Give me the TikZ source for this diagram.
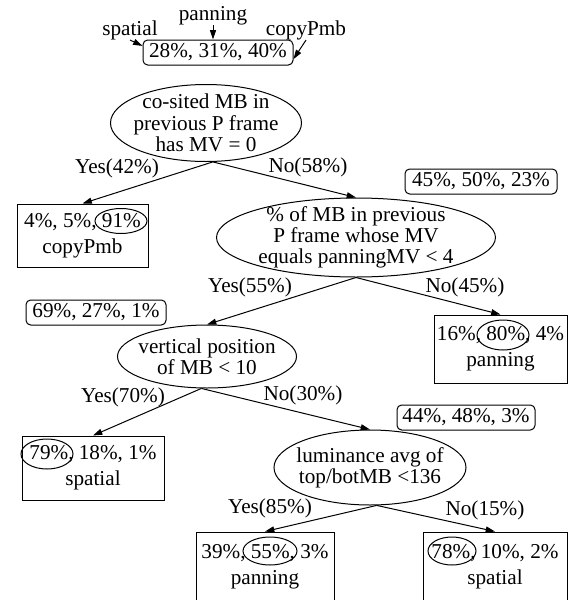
\documentclass[tikz,border=0pt]{standalone}
\usepackage{fontspec}
\setmainfont{Liberation Serif}
\usetikzlibrary{shapes.geometric,arrows.meta}

\tikzset{every picture/.style={line width=0.75pt}}
\tikzset{
  test/.style={ellipse,draw,inner sep=0pt},
  testtxt/.style={align=center,inner sep=0pt,font=\fontsize{15.9}{15.9}\selectfont},
  leaf/.style={rectangle,draw,inner sep=0pt,align=center,font=\fontsize{15.9}{19.5}\selectfont},
  stat/.style={rectangle,draw,rounded corners=3.5pt,inner sep=0pt,font=\fontsize{15.9}{15.9}\selectfont},
  lbl/.style={anchor=base,inner sep=0pt,font=\fontsize{15.9}{15.9}\selectfont},
  branch/.style={-{Triangle[length=7pt,width=4.5pt]}},
}

\begin{document}
\begin{tikzpicture}[x=0.75pt,y=0.75pt,yscale=-1,xscale=1]
\useasboundingbox (0,0) rectangle (568,600);
\clip (0,0) rectangle (568,600);

% class counts at the root
\node[stat,minimum width=112.5pt,minimum height=18.75pt] (s0) at (218,52.5) {28\%, 31\%, 40\%};
\node[lbl] (tpan) at (213,20) {panning};
\node[lbl] (tsp) at (130,35) {spatial};
\node[lbl] (tcp) at (306,35) {copyPmb};
\draw[branch] (tpan.south) -- (tpan.south |- s0.north);
\draw[branch] (tsp.south) -- (s0.175);
\draw[branch] (tcp.south) -- (s0.-5);

% tests
\node[test,minimum width=143.25pt,minimum height=57.75pt] (e1) at (206,123) {};
\node[testtxt] (e1t) at (e1) {co-sited MB in\\previous P frame\\has MV = 0};
\node[test,minimum width=209.25pt,minimum height=59.25pt] (e2) at (356,237.5) {};
\node[testtxt] (e2t) at (e2) {\% of MB in previous\\P frame whose MV\\equals panningMV < 4};
\node[test,minimum width=134.25pt,minimum height=47.25pt] (e3) at (207,356.5) {};
\node[testtxt] (e3t) at (e3) {vertical position\\of MB < 10};
\node[test,minimum width=144pt,minimum height=56.25pt] (e4) at (370,467.5) {};
\node[testtxt] (e4t) at (e4) {luminance avg of\\top/botMB <136};

% class counts at inner nodes
\node[stat,minimum width=114pt,minimum height=18.75pt] (s1) at (481,181.5) {45\%, 50\%, 23\%};
\node[stat,minimum width=105pt,minimum height=18.75pt] (s2) at (96,312.5) {69\%, 27\%, 1\%};
\node[stat,minimum width=103.5pt,minimum height=18.75pt] (s3) at (466,417.5) {44\%, 48\%, 3\%};

% leaves
\node[leaf,minimum width=98.25pt,minimum height=47.25pt] (b1) at (82.5,235.5) {4\%, 5\%, 91\%\\copyPmb};
\node[leaf,minimum width=99.75pt,minimum height=51pt] (b2) at (500.5,349) {16\%, 80\%, 4\%\\panning};
\node[leaf,minimum width=106.5pt,minimum height=48pt] (b3) at (93,468) {79\%, 18\%, 1\%\\spatial};
\node[leaf,minimum width=103.5pt,minimum height=52.5pt] (b4) at (265,567) {39\%, 55\%, 3\%\\panning};
\node[leaf,minimum width=108pt,minimum height=52.5pt] (b5) at (495,567) {78\%, 10\%, 2\%\\spatial};

% winning class
\draw (121,221) ellipse [x radius=26, y radius=12.5];
\draw (503,335) ellipse [x radius=26, y radius=15];
\draw (47,454) ellipse [x radius=26, y radius=15];
\draw (270,551) ellipse [x radius=27, y radius=14];
\draw (452,551) ellipse [x radius=24, y radius=14];

% branches
\draw[branch] (e1.-80) -- (b1.north);
\draw[branch] (e1.-80) -- (e2.north);
\draw[branch] (e2.south) -- (e3.north);
\draw[branch] (e2.south) -- (b2.north);
\draw[branch] (e3.-100) -- (b3.north);
\draw[branch] (e3.-100) -- (e4.north);
\draw[branch] (e4.-80) -- (b4.north);
\draw[branch] (e4.-80) -- (b5.north);

\node[lbl] (ly1) at (117,173) {Yes(42\%)};
\node[lbl] (ln1) at (308,172) {No(58\%)};
\node[lbl] (ly2) at (250,292) {Yes(55\%)};
\node[lbl] (ln2) at (465,292) {No(45\%)};
\node[lbl] (ly3) at (123,402) {Yes(70\%)};
\node[lbl] (ln3) at (303,400) {No(30\%)};
\node[lbl] (ly4) at (270,513) {Yes(85\%)};
\node[lbl] (ln4) at (485,515) {No(15\%)};

\end{tikzpicture}
\end{document}
